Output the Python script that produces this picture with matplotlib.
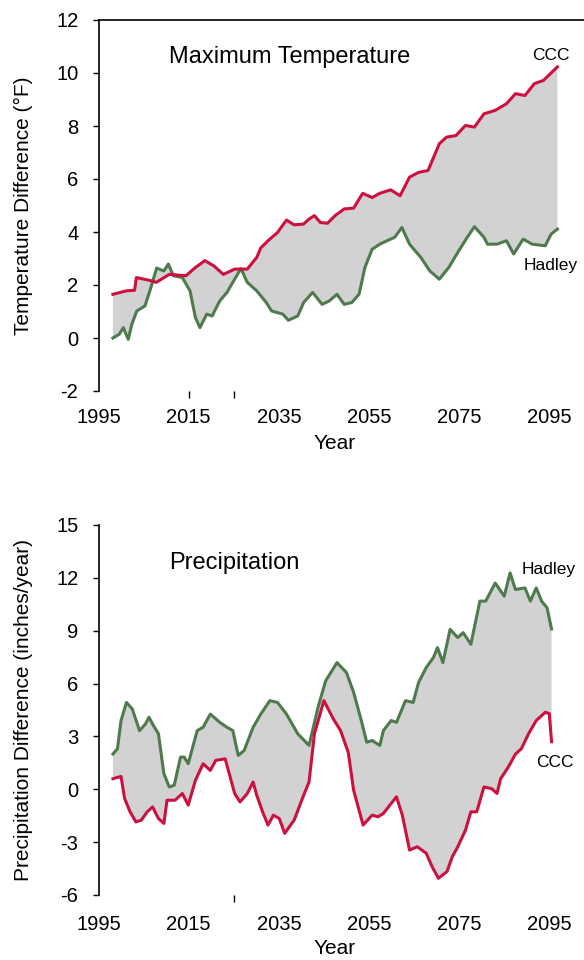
import matplotlib
matplotlib.use("Agg")
import matplotlib.pyplot as plt
import numpy as np

plt.rcParams["font.family"] = ["Liberation Sans", "DejaVu Sans"]
plt.rcParams["axes.unicode_minus"] = False

RED   = "#cc1040"
GREEN = "#4e7a4e"
FILL  = "#d2d2d2"

# ── Maximum temperature (°F) ────────────────────────────────────────────────
temp_ccc_years = [1998.2, 2001.2, 2003.0, 2003.4, 2006.2, 2007.8, 2010.7, 2014.4,
                  2016.5, 2018.6, 2020.6, 2022.7, 2025.2, 2028.0, 2030.1, 2031.0,
                  2032.6, 2034.7, 2036.7, 2038.4, 2040.5, 2041.7, 2042.9, 2044.2,
                  2045.8, 2047.5, 2049.5, 2051.6, 2053.6, 2055.7, 2057.4, 2059.8,
                  2061.9, 2064.0, 2066.0, 2068.1, 2070.6, 2072.2, 2074.3, 2076.4,
                  2078.4, 2080.5, 2083.0, 2085.5, 2087.5, 2089.6, 2091.7, 2093.7,
                  2096.8]
temp_ccc = [1.65, 1.78, 1.8, 2.28, 2.18, 2.1, 2.4, 2.35,
            2.66, 2.92, 2.72, 2.4, 2.6, 2.6, 3.04, 3.4,
            3.67, 3.98, 4.45, 4.27, 4.3, 4.49, 4.62, 4.36,
            4.33, 4.62, 4.87, 4.9, 5.46, 5.3, 5.46, 5.59,
            5.37, 6.07, 6.25, 6.32, 7.33, 7.58, 7.64, 8.02,
            7.96, 8.46, 8.59, 8.84, 9.22, 9.15, 9.6, 9.72,
            10.23]

temp_hadley_years = [1998.2, 1999.6, 2000.5, 2001.6, 2002.4, 2003.5, 2005.3, 2006.4,
                     2007.9, 2009.5, 2010.5, 2011.6, 2013.6, 2015.3, 2016.5, 2017.5,
                     2019.0, 2020.2, 2021.9, 2023.5, 2025.2, 2026.6, 2028.0, 2030.1,
                     2032.2, 2033.4, 2035.9, 2037.1, 2039.2, 2040.5, 2042.5, 2044.6,
                     2046.2, 2047.9, 2049.5, 2051.2, 2052.8, 2054.1, 2055.7, 2057.4,
                     2059.0, 2060.7, 2062.3, 2064.0, 2066.5, 2068.5, 2070.6, 2072.7,
                     2074.7, 2076.8, 2078.4, 2080.5, 2081.3, 2083.4, 2085.5, 2087.1,
                     2089.2, 2091.2, 2094.1, 2095.4, 2096.8]
temp_hadley = [0.0, 0.14, 0.39, -0.05, 0.52, 1.02, 1.21, 1.78,
               2.64, 2.53, 2.79, 2.35, 2.28, 1.78, 0.77, 0.39,
               0.9, 0.83, 1.4, 1.72, 2.22, 2.62, 2.1, 1.78,
               1.34, 1.02, 0.9, 0.67, 0.83, 1.34, 1.72, 1.27,
               1.4, 1.65, 1.27, 1.34, 1.65, 2.66, 3.35, 3.54,
               3.67, 3.8, 4.17, 3.54, 3.04, 2.53, 2.22, 2.66,
               3.23, 3.8, 4.2, 3.8, 3.54, 3.54, 3.67, 3.17,
               3.73, 3.54, 3.48, 3.92, 4.11]

# ── Precipitation (inches/year) ─────────────────────────────────────────────
prec_hadley_years = [1998.2, 1999.2, 2000.0, 2001.2, 2002.5, 2004.1, 2005.4, 2006.2,
                     2007.0, 2008.3, 2009.5, 2010.7, 2011.8, 2013.2, 2014.0, 2014.9,
                     2016.9, 2018.2, 2019.8, 2021.9, 2023.5, 2024.8, 2026.0, 2027.3,
                     2029.3, 2031.0, 2033.0, 2034.7, 2036.7, 2039.2, 2041.7, 2043.8,
                     2045.4, 2047.9, 2050.0, 2051.6, 2053.3, 2054.5, 2055.7, 2057.4,
                     2058.2, 2059.9, 2061.1, 2063.1, 2064.8, 2066.0, 2067.7, 2069.3,
                     2070.2, 2071.4, 2073.0, 2074.7, 2075.9, 2077.6, 2079.6, 2080.9,
                     2083.0, 2085.0, 2086.3, 2087.5, 2089.6, 2090.8, 2092.1, 2093.3,
                     2094.5, 2095.5]
prec_hadley = [2.0, 2.3, 3.9, 4.93, 4.56, 3.33, 3.7, 4.09,
               3.7, 3.15, 0.89, 0.13, 0.23, 1.83, 1.83, 1.45,
               3.33, 3.52, 4.27, 3.8, 3.52, 3.33, 1.92, 2.2,
               3.52, 4.27, 5.03, 4.93, 4.27, 3.15, 2.49, 4.75,
               6.16, 7.19, 6.63, 5.5, 3.9, 2.67, 2.77, 2.49,
               3.33, 3.9, 3.8, 5.03, 4.93, 6.06, 6.91, 7.48,
               8.04, 7.19, 9.08, 8.61, 8.89, 8.23, 10.68, 10.68,
               11.71, 10.96, 12.28, 11.34, 11.43, 10.68, 11.43, 10.68,
               10.3, 9.1]

prec_ccc_years = [1998.2, 2000.0, 2000.8, 2002.0, 2003.3, 2004.5, 2005.8, 2007.0,
                  2008.3, 2009.5, 2010.2, 2012.0, 2013.6, 2014.9, 2016.5, 2018.2,
                  2019.8, 2021.0, 2023.1, 2025.2, 2026.4, 2028.0, 2029.3, 2030.1,
                  2031.4, 2032.6, 2033.8, 2035.1, 2036.3, 2038.4, 2040.5, 2041.7,
                  2042.9, 2045.0, 2047.1, 2048.7, 2050.4, 2051.6, 2053.7, 2055.7,
                  2057.0, 2058.2, 2059.9, 2061.1, 2062.4, 2064.0, 2065.7, 2067.7,
                  2069.0, 2070.4, 2072.3, 2073.5, 2074.7, 2076.4, 2077.6, 2078.9,
                  2080.5, 2082.2, 2083.4, 2084.2, 2085.9, 2087.5, 2088.8, 2090.4,
                  2092.1, 2094.1, 2095.0, 2095.5]
prec_ccc = [0.6, 0.73, -0.53, -1.28, -1.85, -1.75, -1.28, -1.0,
            -1.66, -1.94, -0.62, -0.62, -0.24, -0.9, 0.51, 1.45,
            1.07, 1.64, 1.73, -0.24, -0.72, -0.24, 0.41, -0.34,
            -1.28, -2.03, -1.47, -1.66, -2.5, -1.75, -0.34, 0.41,
            3.15, 5.03, 3.99, 3.33, 2.1, -0.06, -2.03, -1.47,
            -1.56, -1.37, -0.81, -0.43, -1.47, -3.45, -3.26, -3.63,
            -4.39, -5.05, -4.67, -3.82, -3.26, -2.32, -1.28, -1.28,
            0.13, 0.04, -0.24, 0.6, 1.26, 2.0, 2.3, 3.15,
            3.9, 4.37, 4.3, 2.7]

YEAR_TICKS = [1995, 2015, 2035, 2055, 2075, 2095]


def _panel(ax, ccc_x, ccc_y, had_x, had_y, ylim, yticks, ylabel, title,
           stray_ticks, tick_pad, ccc_pos, had_pos, top_line):
    # grey band between the two model runs
    poly_x = np.concatenate([ccc_x, had_x[::-1]])
    poly_y = np.concatenate([ccc_y, had_y[::-1]])
    ax.fill(poly_x, poly_y, color=FILL, linewidth=0, zorder=1)
    ax.plot(had_x, had_y, color=GREEN, linewidth=2.2, zorder=2)
    ax.plot(ccc_x, ccc_y, color=RED, linewidth=2.2, zorder=3)

    ax.set_xlim(1995, 2102.7)
    ax.set_ylim(*ylim)
    ax.set_yticks(yticks)
    ax.set_xticks(YEAR_TICKS)
    ax.xaxis.remove_overlapping_locs = False
    ax.set_xticks(stray_ticks, minor=True)

    for side in ("right", "bottom"):
        ax.spines[side].set_visible(False)
    ax.spines["top"].set_visible(top_line)
    ax.spines["left"].set_linewidth(1.2)
    ax.spines["top"].set_linewidth(1.2)

    ax.tick_params(axis="y", direction="out", length=4.5, width=1.0,
                   pad=10, labelsize=14.5)
    ax.tick_params(axis="x", which="major", length=0, pad=tick_pad, labelsize=14.5)
    ax.tick_params(axis="x", which="minor", direction="out", length=5, width=1.0)

    ax.set_ylabel(ylabel, fontsize=15)
    ax.set_xlabel("Year", fontsize=15)
    ax.text(0.146, title[1], title[0], transform=ax.transAxes,
            ha="left", va="center", fontsize=17)
    ax.text(ccc_pos[0], ccc_pos[1], "CCC", ha="center", va="center", fontsize=12.5)
    ax.text(had_pos[0], had_pos[1], "Hadley", ha="center", va="center", fontsize=12.5)


fig = plt.figure(figsize=(5.84, 9.6), dpi=100)
ax1 = fig.add_axes([98.5 / 584, 1 - 391 / 960, 1 - 98.5 / 584, 371 / 960])
ax2 = fig.add_axes([98.5 / 584, 1 - 895 / 960, 1 - 98.5 / 584, 370 / 960])

_panel(ax1, np.array(temp_ccc_years), np.array(temp_ccc),
       np.array(temp_hadley_years), np.array(temp_hadley),
       (-2, 12), [-2, 0, 2, 4, 6, 8, 10, 12],
       "Temperature Difference (°F)", ("Maximum Temperature", 0.900),
       [2015, 2025], 12.5, (2095.3, 10.67), (2095.3, 2.72), True)
ax1.yaxis.set_label_coords(-0.135, 0.5)
ax1.xaxis.set_label_coords(0.487, -0.115)

_panel(ax2, np.array(prec_ccc_years), np.array(prec_ccc),
       np.array(prec_hadley_years), np.array(prec_hadley),
       (-6, 15), [-6, -3, 0, 3, 6, 9, 12, 15],
       "Precipitation Difference (inches/year)", ("Precipitation", 0.897),
       [2025], 14.5, (2096.2, 1.5), (2094.9, 12.5), False)
ax2.yaxis.set_label_coords(-0.135, 0.5)
ax2.xaxis.set_label_coords(0.487, -0.12)

fig.savefig("out.png", dpi=100)
plt.close(fig)
